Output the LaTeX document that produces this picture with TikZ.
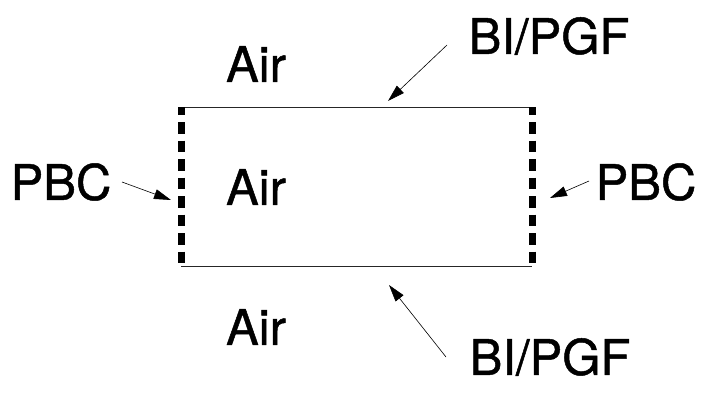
\documentclass[tikz,border=0pt]{standalone}
\usepackage{fontspec}
\setmainfont[FakeBold=1]{TeX Gyre Heros}
\usetikzlibrary{arrows.meta}
\begin{document}
\begin{tikzpicture}[x=1pt,y=-1pt,
  lbl/.style={inner sep=0pt, font=\fontsize{49}{49}\selectfont},
  wall/.style={line width=1pt, black!85},
  pbcwall/.style={line width=7pt, dash pattern=on 11.5pt off 7pt, dash phase=3.5pt},
  pointer/.style={line width=0.6pt, -{Triangle[length=17pt,width=10pt]}}]
\useasboundingbox (0,0) rectangle (706,396);
% cell corners
\coordinate (tl) at (181,107);
\coordinate (tr) at (532,107);
\coordinate (bl) at (181,266);
\coordinate (br) at (532,266);
% horizontal boundaries (Bloch / PGF)
\draw[wall] (tl) -- (tr);
\draw[wall] (bl) -- (br);
% periodic boundaries
\draw[pbcwall] (tl) -- (bl);
\draw[pbcwall] (tr) -- (br);
% labels
\node[lbl] (airtop) at (256,64) {Air};
\node[lbl] (airmid) at (256,187) {Air};
\node[lbl] (airbot) at (256,327) {Air};
\node[lbl] (pbcl) at (61,182) {PBC};
\node[lbl] (pbcr) at (646,182) {PBC};
\node[lbl] (bitop) at (549,36) {BI/PGF};
\node[lbl] (bibot) at (550,357) {BI/PGF};
% arrow tips on the boundaries
\coordinate (ptop) at (388,101);
\coordinate (pbot) at (389,285);
\coordinate (pl) at (171,200);
\coordinate (pr) at (550,198);
\coordinate (stop) at (447,45);
\coordinate (sbot) at (446,357);
\coordinate (sl) at (122,182);
\coordinate (sr) at (589,181);
\draw[pointer] (stop) -- (ptop);
\draw[pointer] (sbot) -- (pbot);
\draw[pointer] (sl) -- (pl);
\draw[pointer] (sr) -- (pr);
\end{tikzpicture}
\end{document}
